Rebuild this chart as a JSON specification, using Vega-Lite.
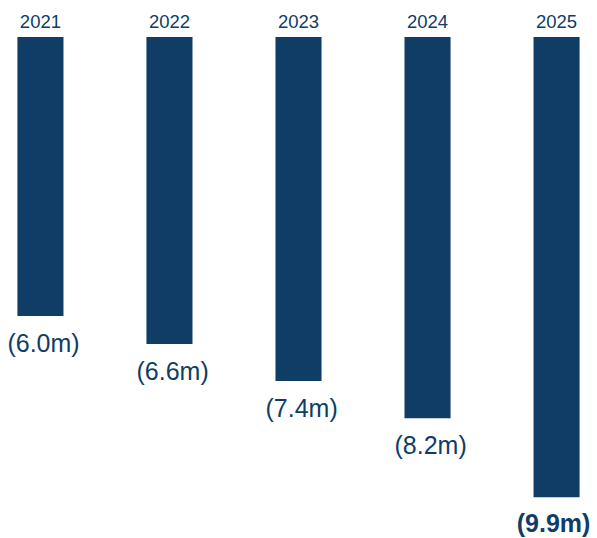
{
  "$schema": "https://vega.github.io/schema/vega-lite/v6.json",
  "width": 597,
  "height": 501,
  "padding": {"top": 37, "left": 0, "right": 0, "bottom": 0},
  "autosize": {"type": "none"},
  "background": "white",
  "config": {"view": {"stroke": null}},
  "data": {"values": [
    {"year": "2021", "value": 6.0, "label": "(6.0m)"},
    {"year": "2022", "value": 6.6, "label": "(6.6m)"},
    {"year": "2023", "value": 7.4, "label": "(7.4m)"},
    {"year": "2024", "value": 8.2, "label": "(8.2m)"},
    {"year": "2025", "value": 9.9, "label": "(9.9m)"}
  ]},
  "encoding": {
    "x": {"field": "year", "type": "nominal", "axis": null, "scale": {"paddingInner": 0.643, "paddingOuter": 0.135}}
  },
  "layer": [
    {
      "mark": {"type": "bar", "color": "#0f3d66"},
      "encoding": {
        "y": {"field": "value", "type": "quantitative", "axis": null, "scale": {"domain": [0, 10.774], "nice": false, "reverse": true}}
      }
    },
    {
      "mark": {"type": "text", "color": "#0f3d66", "font": "Liberation Sans", "fontSize": 18.5, "baseline": "alphabetic", "dy": -9},
      "encoding": {
        "y": {"datum": 0, "type": "quantitative"},
        "text": {"field": "year"}
      }
    },
    {
      "transform": [{"filter": "datum.year != '2025'"}],
      "mark": {"type": "text", "color": "#0f3d66", "font": "Liberation Sans", "fontSize": 25, "align": "left", "baseline": "alphabetic", "dy": 36, "dx": -33},
      "encoding": {
        "y": {"field": "value", "type": "quantitative"},
        "text": {"field": "label"}
      }
    },
    {
      "transform": [{"filter": "datum.year == '2025'"}],
      "mark": {"type": "text", "color": "#0f3d66", "font": "Liberation Sans", "fontSize": 25, "fontWeight": "bold", "baseline": "alphabetic", "dy": 35, "dx": -3},
      "encoding": {
        "y": {"field": "value", "type": "quantitative"},
        "text": {"field": "label"}
      }
    }
  ]
}
